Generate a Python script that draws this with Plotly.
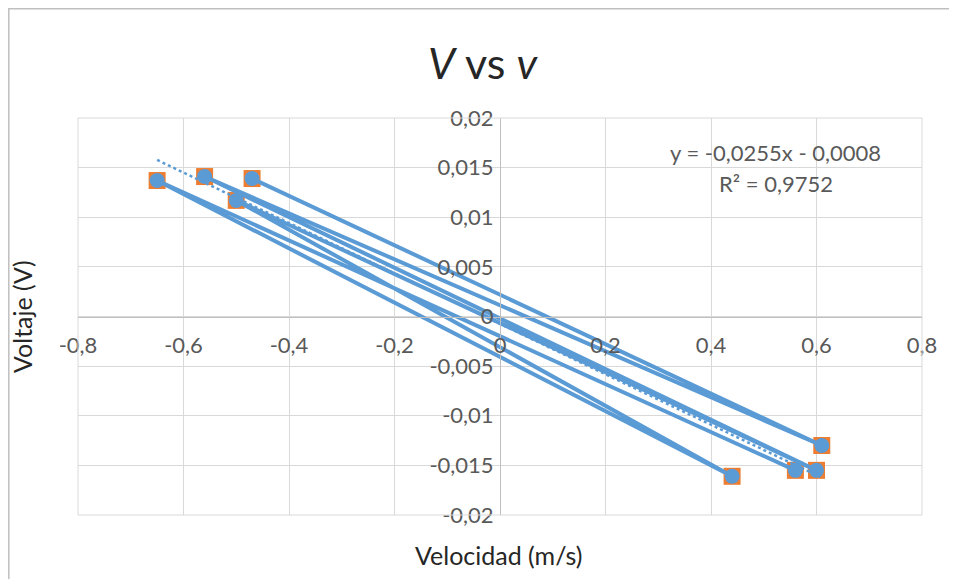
import numpy as np
import plotly.graph_objects as go

# Data, in series order
velocidad = [-0.47, 0.61, -0.56, 0.60, -0.50, 0.44, -0.65, 0.56]
voltaje = [0.0139, -0.0130, 0.0141, -0.0155, 0.0117, -0.0161, 0.0137, -0.0155]

x_ticks = [-0.8, -0.6, -0.4, -0.2, 0, 0.2, 0.4, 0.6, 0.8]
x_tick_labels = ["-0,8", "-0,6", "-0,4", "-0,2", "0", "0,2", "0,4", "0,6", "0,8"]
y_ticks = [-0.02, -0.015, -0.01, -0.005, 0, 0.005, 0.01, 0.015, 0.02]
y_tick_labels = ["-0,02", "-0,015", "-0,01", "-0,005", "0", "0,005", "0,01", "0,015", "0,02"]

eq_text = "y = -0,0255x - 0,0008"
r2_text = "R² = 0,9752"

BLUE = "#5B9BD5"
ORANGE = "#ED7D31"
GRID = "#D9D9D9"
TXT = "#595959"
FONT = "Lato"

# page offset (default body margin) compensation
OX, OY = 8, 8
L, R, T, B = 78 - OX, 957 - 922 + OX, 118 - OY, 579 - 515 + OY
PW, PH = 957 - L - R, 579 - T - B


def px(xw):
    return (xw - OX - L) / PW


def py(yw):
    return (579 - B - (yw - OY)) / PH


# linear trendline from data
slope, intercept = np.polyfit(velocidad, voltaje, 1)
tx = np.array([min(velocidad), max(velocidad)])
ty = slope * tx + intercept

fig = go.Figure()
fig.add_trace(go.Scatter(
    x=velocidad, y=voltaje, mode="markers",
    marker=dict(symbol="square", size=17, color=ORANGE, line=dict(width=0)),
    showlegend=False, hoverinfo="skip"))
fig.add_trace(go.Scatter(
    x=velocidad, y=voltaje, mode="lines+markers",
    line=dict(color=BLUE, width=4),
    marker=dict(symbol="circle", size=15, color=BLUE),
    showlegend=False))
fig.add_trace(go.Scatter(
    x=tx, y=ty, mode="lines",
    line=dict(color=BLUE, width=2.5, dash="dot"),
    showlegend=False, hoverinfo="skip"))

fig.update_layout(
    width=957, height=579,
    margin=dict(l=L, r=R, t=T, b=B),
    paper_bgcolor="white", plot_bgcolor="white",
    font=dict(family=FONT, color=TXT, size=22),
    xaxis=dict(range=[-0.8, 0.8], tickvals=x_ticks, ticktext=x_tick_labels,
               showgrid=True, gridcolor=GRID, gridwidth=1,
               zeroline=False, showline=True, linecolor="#BFBFBF", linewidth=1,
               anchor="free", position=0.5, ticks="", ticklen=0,
               ticklabelstandoff=9,
               tickfont=dict(family=FONT, size=22, color=TXT)),
    yaxis=dict(range=[-0.02, 0.02], tickvals=y_ticks, ticktext=y_tick_labels,
               showgrid=True, gridcolor=GRID, gridwidth=1,
               zeroline=False, showline=True, linecolor="#BFBFBF", linewidth=1,
               anchor="free", position=0.5, ticks="", ticklen=0,
               ticklabelstandoff=2,
               tickfont=dict(family=FONT, size=22, color=TXT)),
    shapes=[
        dict(type="rect", xref="paper", yref="paper",
             x0=0, x1=1, y0=0, y1=1, line=dict(color=GRID, width=1)),
        dict(type="rect", xref="paper", yref="paper",
             x0=px(8.8), x1=px(970),
             y0=py(620), y1=py(8.8),
             line=dict(color="#BFBFBF", width=1.5)),
    ],
    annotations=[
        dict(text="<i>V</i> vs <i>v</i>", xref="paper", yref="paper",
             x=px(483), y=py(62), showarrow=False,
             font=dict(family=FONT, size=43, color="#262626"),
             xanchor="center", yanchor="middle"),
        dict(text="Velocidad (m/s)", xref="paper", yref="paper",
             x=px(498), y=py(555), showarrow=False,
             font=dict(family=FONT, size=25, color="#262626"),
             xanchor="center", yanchor="middle"),
        dict(text="Voltaje (V)", xref="paper", yref="paper",
             x=px(22), y=py(316), showarrow=False,
             textangle=-90,
             font=dict(family=FONT, size=25, color="#262626"),
             xanchor="center", yanchor="middle"),
        dict(text=eq_text, xref="paper", yref="paper",
             x=px(775), y=py(152), showarrow=False,
             font=dict(family=FONT, size=22, color=TXT),
             xanchor="center", yanchor="middle"),
        dict(text=r2_text, xref="paper", yref="paper",
             x=px(776), y=py(183), showarrow=False,
             font=dict(family=FONT, size=22, color=TXT),
             xanchor="center", yanchor="middle"),
    ],
)

fig.write_html("out.html")
